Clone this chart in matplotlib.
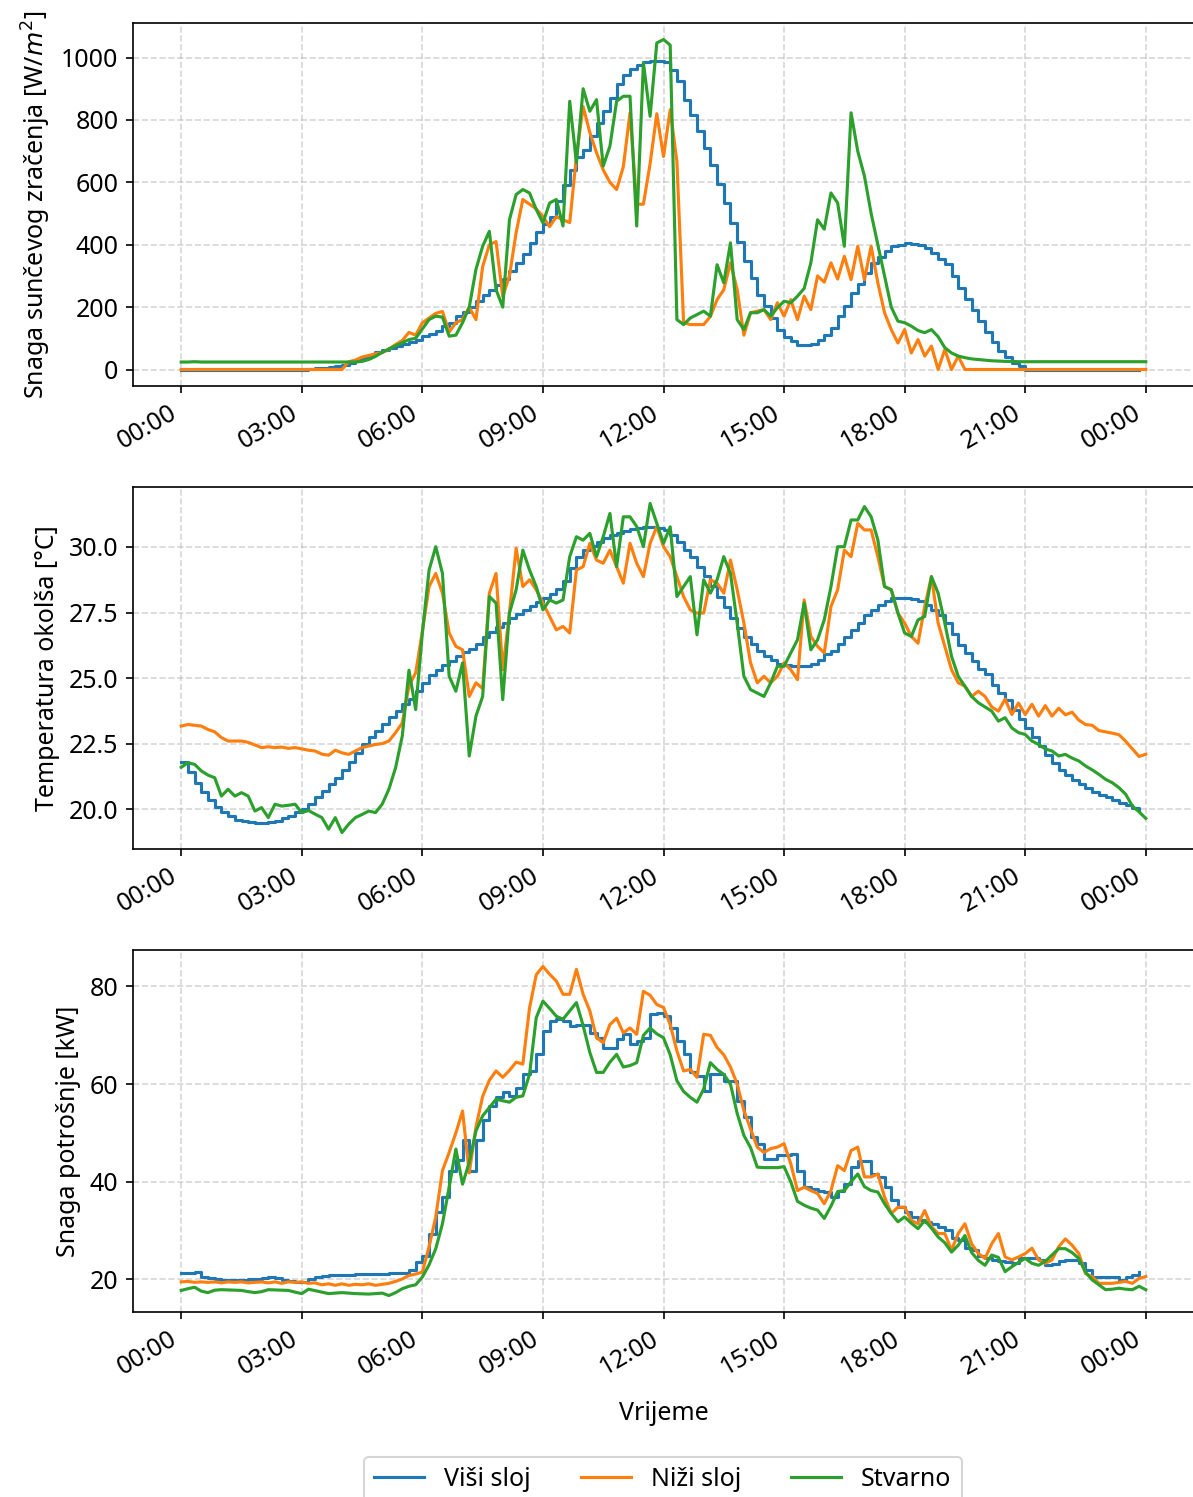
import matplotlib
matplotlib.use('Agg')
import matplotlib.pyplot as plt
import matplotlib.dates as mdates
import matplotlib.ticker as mticker
import pandas as pd

plt.rcParams['font.family'] = ['Noto Sans', 'DejaVu Sans']
plt.rcParams['font.size'] = 12

# 10-minute time stamps over one day (145 points: 00:00 .. 24:00)
times = pd.date_range('2024-07-01 00:00', periods=145, freq='10min')
times_hi = times[:144]

series_labels = ['Viši sloj', 'Niži sloj', 'Stvarno']
ylabels = ['Snaga sunčevog zračenja [W/$m^2$]', 'Temperatura okolša [°C]', 'Snaga potrošnje [kW]']
xlabel = 'Vrijeme'

# ---------------- Solar radiation [W/m2] ----------------
rad_hi = [
    0, 0, 0, 0, 0, 0,
    0, 0, 0, 0, 0, 0,
    0, 0, 0, 0, 0, 0,
    0, 2, 4, 6, 9, 12,
    16, 22, 30, 38, 46, 55,
    64, 70, 76, 82, 88, 96,
    106, 115, 125, 138, 150, 170,
    185, 200, 220, 240, 255, 270,
    290, 315, 340, 370, 405, 440,
    465, 490, 540, 590, 640, 680,
    705, 750, 790, 830, 870, 915,
    945, 965, 975, 985, 988, 988,
    987, 960, 925, 865, 817, 764,
    711, 655, 595, 535, 470, 410,
    347, 294, 240, 203, 165, 128,
    105, 90, 80, 80, 82, 95,
    110, 134, 170, 205, 246, 275,
    310, 340, 360, 380, 395, 400,
    404, 402, 398, 388, 372, 355,
    337, 299, 262, 225, 190, 155,
    119, 87, 60, 40, 22, 10,
    0, 0, 0, 0, 0, 0,
    0, 0, 0, 0, 0, 0,
    0, 0, 0, 0, 0, 0,
]
rad_lo = [
    0, 0, 0, 0, 0, 0,
    0, 0, 0, 0, 0, 0,
    0, 0, 0, 0, 0, 0,
    0, 0, 0, 0, 0, 0,
    0, 25, 30, 40, 45, 50,
    54, 65, 80, 93, 119, 110,
    150, 165, 180, 186, 120, 150,
    160, 200, 160, 330, 400, 410,
    234, 300, 439, 545, 530, 515,
    490, 458, 490, 480, 471, 683,
    843, 760, 695, 640, 600, 577,
    650, 823, 530, 530, 660, 820,
    683, 833, 667, 150, 144, 144,
    144, 170, 224, 256, 342, 256,
    110, 182, 187, 192, 160, 214,
    171, 224, 160, 235, 192, 300,
    280, 342, 290, 363, 288, 395,
    288, 395, 278, 182, 128, 85,
    128, 53, 96, 43, 75, 0,
    64, 0, 43, 0, 0, 0,
    0, 0, 0, 0, 0, 0,
    0, 0, 0, 0, 0, 0,
    0, 0, 0, 0, 0, 0,
    0, 0, 0, 0, 0, 0,
    0,
]
rad_re = [
    24, 24, 25, 24, 24, 24,
    24, 24, 24, 24, 24, 24,
    24, 24, 24, 24, 24, 24,
    24, 24, 24, 24, 24, 24,
    24, 24, 24, 26, 32, 42,
    55, 66, 76, 86, 96, 100,
    130, 160, 171, 168, 107, 110,
    150, 200, 321, 395, 443, 256,
    200, 480, 561, 577, 566, 513,
    470, 534, 545, 460, 860, 663,
    900, 828, 865, 652, 716, 860,
    876, 876, 460, 983, 812, 1047,
    1058, 1040, 160, 144, 165, 176,
    187, 171, 336, 278, 406, 160,
    128, 182, 182, 192, 171, 198,
    219, 214, 235, 260, 342, 480,
    450, 566, 534, 395, 823, 700,
    620, 500, 400, 300, 200, 155,
    150, 139, 125, 118, 128, 105,
    70, 53, 43, 38, 34, 32,
    30, 28, 27, 26, 26, 25,
    25, 25, 25, 25, 25, 25,
    25, 25, 25, 25, 25, 25,
    25, 25, 25, 25, 25, 25,
    25,
]

# ---------------- Ambient temperature [°C] ----------------
temp_hi = [
    21.8, 21.4, 21.0, 20.65, 20.35, 20.1,
    19.9, 19.75, 19.6, 19.55, 19.5, 19.47,
    19.47, 19.5, 19.55, 19.65, 19.75, 19.88,
    20.0, 20.2, 20.45, 20.7, 20.95, 21.2,
    21.5, 21.8, 22.15, 22.5, 22.75, 22.97,
    23.25, 23.5, 23.75, 24.0, 24.2, 24.5,
    24.8, 25.1, 25.3, 25.5, 25.65, 25.85,
    26.0, 26.1, 26.3, 26.55, 26.75, 26.95,
    27.1, 27.3, 27.45, 27.6, 27.75, 27.9,
    28.05, 28.2, 28.4, 28.7, 29.2, 29.6,
    29.9, 30.05, 30.2, 30.35, 30.45, 30.55,
    30.6, 30.68, 30.72, 30.75, 30.75, 30.72,
    30.65, 30.45, 30.2, 29.9, 29.6, 29.25,
    28.9, 28.5, 28.1, 27.7, 27.3, 26.9,
    26.55, 26.3, 26.05, 25.85, 25.7, 25.55,
    25.5, 25.45, 25.45, 25.45, 25.55, 25.7,
    25.9, 26.05, 26.3, 26.55, 26.85, 27.1,
    27.4, 27.6, 27.8, 27.95, 28.05, 28.05,
    28.05, 28.0, 27.95, 27.8, 27.6, 27.4,
    27.1, 26.7, 26.25, 25.95, 25.65, 25.35,
    25.15, 24.75, 24.45, 24.15, 23.8, 23.45,
    23.1, 22.75, 22.4, 22.05, 21.75, 21.5,
    21.3, 21.1, 20.95, 20.8, 20.65, 20.55,
    20.45, 20.35, 20.25, 20.15, 20.05, 19.95,
]
temp_lo = [
    23.17, 23.23, 23.2, 23.17, 23.04, 22.95,
    22.73, 22.6, 22.6, 22.6, 22.55, 22.45,
    22.35, 22.38, 22.35, 22.37, 22.32, 22.35,
    22.3, 22.25, 22.22, 22.1, 22.06, 22.25,
    22.15, 22.09, 22.22, 22.35, 22.41, 22.47,
    22.5, 22.6, 22.92, 23.29, 24.7, 25.2,
    26.78, 28.49, 28.99, 28.24, 26.72, 26.21,
    26.08, 24.3, 24.82, 24.6, 28.24, 28.99,
    25.32, 27.48, 29.95, 28.49, 28.75, 28.37,
    27.86, 27.35, 26.84, 26.97, 26.72, 29.12,
    29.25, 30.14, 29.5, 29.38, 29.88, 29.25,
    28.62, 30.14, 29.38, 28.87, 30.14, 30.78,
    30.01, 29.63, 28.87, 28.11, 27.6, 27.48,
    27.48, 28.75, 28.62, 28.24, 29.5, 28.37,
    27.1, 25.58, 24.82, 25.07, 24.82, 25.07,
    25.58, 25.32, 24.94, 27.98, 26.59, 26.21,
    25.96, 27.73, 28.37, 29.88, 29.63, 30.9,
    30.65, 30.65, 29.63, 28.49, 28.37, 27.48,
    27.1, 26.59, 26.33, 27.73, 28.87, 27.1,
    26.21, 25.32, 24.82, 24.69, 24.3, 24.5,
    24.3, 23.9, 23.74, 24.2, 23.61, 24.05,
    23.61, 24.0, 23.55, 23.95, 23.55, 23.85,
    23.6, 23.7, 23.4, 23.23, 23.2, 23.0,
    22.95, 22.9, 22.84, 22.59, 22.3, 22.01,
    22.1,
]
temp_re = [
    21.6, 21.77, 21.71, 21.46, 21.3, 21.2,
    20.5, 20.76, 20.5, 20.63, 20.5, 19.93,
    20.06, 19.68, 20.19, 20.12, 20.15, 20.19,
    19.87, 19.95, 19.81, 19.68, 19.24, 19.68,
    19.11, 19.43, 19.68, 19.8, 19.93, 19.87,
    20.19, 20.76, 21.58, 22.79, 25.3, 23.8,
    26.72, 29.12, 30.01, 28.99, 25.07, 24.5,
    25.58, 22.03, 23.55, 24.3, 28.11, 27.86,
    24.18, 27.48, 28.37, 29.88, 29.12, 28.49,
    27.6, 27.98, 27.86, 27.98, 29.63, 30.39,
    30.26, 30.52, 29.63, 30.39, 31.28, 29.25,
    31.15, 31.15, 30.78, 30.01, 31.66, 30.9,
    30.14, 30.77, 28.11, 28.49, 28.87, 26.65,
    28.75, 28.24, 28.75, 29.63, 28.99, 27.1,
    25.07, 24.56, 24.43, 24.3, 24.82, 25.45,
    25.45, 25.96, 26.46, 27.86, 26.08, 26.46,
    27.22, 28.49, 30.01, 30.01, 31.03, 31.03,
    31.54, 31.15, 30.27, 28.49, 28.37, 27.48,
    26.72, 26.59, 27.22, 27.35, 28.87, 28.24,
    27.1, 25.83, 25.07, 24.69, 24.3, 24.06,
    23.9, 23.74, 23.36, 23.49, 23.1, 22.92,
    22.85, 22.6, 22.47, 22.3, 22.22, 22.03,
    22.09, 21.95, 21.84, 21.65, 21.5, 21.33,
    21.14, 21.01, 20.82, 20.57, 20.12, 19.9,
    19.65,
]

# ---------------- Consumption power [kW] ----------------
load_hi = [
    21.4, 21.4, 21.5, 20.5, 20.2, 20.1,
    19.9, 19.9, 19.9, 19.9, 20.0, 20.1,
    20.2, 20.4, 20.2, 19.9, 19.7, 19.5,
    19.5, 20.0, 20.5, 20.8, 20.9, 20.9,
    21.0, 21.0, 21.1, 21.1, 21.2, 21.2,
    21.2, 21.3, 21.3, 21.4, 21.9, 23.6,
    24.9, 29.4, 33.8, 36.9, 42.3, 44.4,
    48.5, 42.3, 48.5, 52.6, 55.6, 57.3,
    58.3, 57.6, 59.3, 62.0, 62.7, 66.1,
    70.9, 72.9, 73.3, 72.9, 71.9, 72.2,
    72.2, 70.5, 69.5, 67.5, 67.5, 69.2,
    70.2, 68.2, 68.8, 69.5, 74.3, 74.6,
    73.9, 71.5, 68.8, 66.1, 62.4, 61.7,
    58.6, 62.0, 62.0, 60.7, 60.7, 56.6,
    53.2, 49.1, 47.8, 44.7, 44.7, 45.4,
    45.4, 45.7, 42.3, 38.9, 38.5, 38.2,
    37.9, 36.9, 38.2, 39.6, 43.0, 44.3,
    44.3, 41.6, 40.9, 38.9, 36.2, 34.8,
    33.8, 32.8, 32.1, 31.8, 31.4, 30.8,
    30.1, 28.4, 28.1, 26.4, 26.0, 24.7,
    24.3, 24.0, 23.7, 23.5, 23.3, 24.3,
    24.3, 24.3, 24.0, 23.0, 23.2, 23.7,
    24.0, 24.0, 23.3, 22.0, 20.6, 20.6,
    20.6, 20.6, 19.9, 20.6, 21.0, 21.6,
]
load_lo = [
    19.5, 19.6, 19.4, 19.5, 19.4, 19.5,
    19.3, 19.5, 19.4, 19.5, 19.3, 19.4,
    19.5, 19.3, 19.5, 19.2, 19.5, 19.4,
    19.5, 19.2, 19.3, 18.9, 19.1, 18.8,
    19.1, 18.8, 19.0, 18.9, 19.1, 18.8,
    19.0, 19.2, 19.6, 20.1, 20.8, 21.1,
    21.5, 26.7, 32.8, 42.3, 46.0, 50.0,
    54.5, 41.8, 51.2, 57.5, 60.8, 62.7,
    61.4, 62.8, 64.5, 64.1, 75.6, 82.4,
    84.1, 82.5, 81.1, 78.4, 78.4, 83.5,
    78.4, 75.0, 69.5, 68.5, 72.2, 73.5,
    70.5, 71.5, 70.2, 79.0, 78.2, 76.3,
    75.7, 72.2, 66.8, 62.7, 63.0, 61.4,
    70.2, 70.0, 67.5, 66.0, 63.5, 60.0,
    54.6, 50.8, 47.1, 46.0, 46.8, 47.1,
    47.8, 43.7, 38.2, 38.9, 38.2, 37.6,
    35.5, 38.2, 43.3, 42.3, 46.4, 47.1,
    41.0, 41.0, 41.6, 36.9, 33.5, 34.8,
    34.8, 32.1, 31.4, 34.1, 30.8, 29.4,
    29.4, 26.0, 29.4, 31.4, 27.3, 25.3,
    24.3, 27.3, 29.4, 24.6, 24.0, 24.6,
    25.3, 26.4, 24.0, 23.3, 24.0, 26.7,
    28.3, 27.0, 25.3, 21.2, 20.6, 19.2,
    19.2, 19.2, 19.4, 19.6, 19.2, 20.2,
    20.6,
]
load_re = [
    17.75, 18.1, 18.4, 17.6, 17.3, 17.8,
    17.9, 17.85, 17.8, 17.75, 17.5, 17.3,
    17.5, 17.9, 17.85, 17.8, 17.75, 17.4,
    17.1, 18.0, 17.7, 17.4, 17.1, 17.2,
    17.3, 17.2, 17.1, 17.05, 17.0, 17.1,
    17.2, 16.7, 17.3, 18.1, 18.6, 18.9,
    20.5, 23.0, 26.3, 31.4, 38.9, 46.7,
    39.5, 44.0, 50.4, 53.5, 55.2, 56.9,
    56.6, 56.3, 57.3, 57.6, 62.0, 73.6,
    77.0, 75.5, 73.9, 73.3, 75.0, 76.7,
    72.0, 66.5, 62.4, 62.4, 64.5, 66.1,
    63.5, 63.8, 64.4, 70.0, 71.5, 70.3,
    69.5, 66.0, 60.7, 58.5, 57.3, 56.3,
    59.0, 64.4, 63.0, 62.0, 60.0, 54.0,
    49.5, 47.0, 43.0, 42.9, 42.9, 42.9,
    43.1, 40.0, 36.0, 35.2, 34.6, 34.2,
    32.5, 35.0, 38.0, 38.2, 40.0, 41.6,
    39.0, 38.2, 37.9, 35.5, 33.5, 31.8,
    32.8, 31.5, 30.4, 32.1, 30.5, 28.7,
    27.5, 25.6, 27.0, 29.0, 25.5, 23.9,
    22.9, 25.0, 24.5, 21.6, 22.6, 23.5,
    24.3, 23.3, 22.9, 23.7, 25.0, 26.3,
    26.3, 25.5, 24.3, 21.5, 19.9, 18.9,
    17.9, 18.0, 18.2, 18.0, 17.9, 18.6,
    17.9,
]

colors = ['#1f77b4', '#ff7f0e', '#2ca02c']

W, H = 1193, 1497
fig = plt.figure(figsize=(W / 150, H / 150), dpi=150)

# axes boxes in pixels: (top, bottom)
boxes = [(23, 386), (487, 849), (950, 1312)]
left_px, right_px = 133, 1194
panels = [(rad_hi, rad_lo, rad_re), (temp_hi, temp_lo, temp_re), (load_hi, load_lo, load_re)]

axes = []
for (top, bot), (hi, lo, re), yl in zip(boxes, panels, ylabels):
    ax = fig.add_axes([left_px / W, 1 - bot / H, (right_px - left_px) / W, (bot - top) / H])
    ax.plot(times_hi, hi, drawstyle='steps-post', color=colors[0], label=series_labels[0])
    ax.plot(times, lo, color=colors[1], label=series_labels[1])
    ax.plot(times, re, color=colors[2], label=series_labels[2])
    ax.xaxis.set_major_locator(mdates.HourLocator(byhour=range(0, 24, 3)))
    ax.xaxis.set_major_formatter(mdates.DateFormatter('%H:%M'))
    ax.grid(True, linestyle='--', alpha=0.5)
    ax.set_ylabel(yl)
    plt.setp(ax.get_xticklabels(), rotation=30, ha='right')
    axes.append(ax)

axes[1].yaxis.set_major_locator(mticker.MultipleLocator(2.5))
axes[1].yaxis.set_major_formatter(mticker.FormatStrFormatter('%.1f'))
axes[2].yaxis.set_major_locator(mticker.MultipleLocator(20))
axes[2].set_xlabel(xlabel, labelpad=10)

handles, labels = axes[0].get_legend_handles_labels()
fig.legend(handles, labels, loc='upper center', bbox_to_anchor=(663 / W, 1 - 1444 / H),
           ncol=3, fontsize=12)

fig.savefig('out.png', dpi=150)
